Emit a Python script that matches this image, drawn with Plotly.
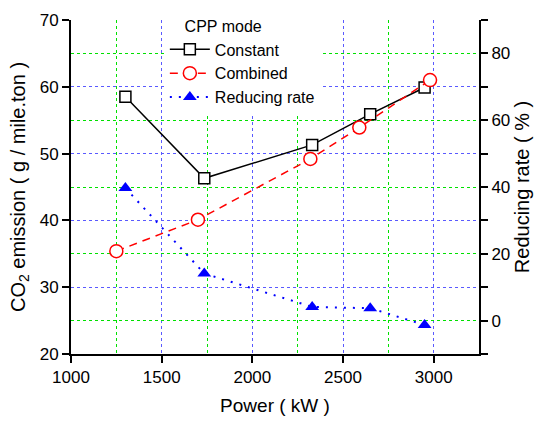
import plotly.graph_objects as go

power_constant = [1300, 1735, 2330, 2650, 2950]
co2_constant = [58.5, 46.3, 51.3, 55.9, 59.9]

power_combined = [1250, 1700, 2320, 2590, 2980]
co2_combined = [35.4, 40.1, 49.2, 53.9, 61.0]

power_rate = [1300, 1735, 2330, 2650, 2950]
reducing_rate = [39.7, 14.1, 4.1, 3.7, -1.3]

FONT = "Liberation Sans, Arial, sans-serif"
BLUE_GRID = "rgb(90,90,255)"
GREEN_GRID = "rgb(0,225,0)"

fig = go.Figure()

fig.add_trace(go.Scatter(
    x=power_constant, y=co2_constant, name="Constant", mode="lines+markers",
    line=dict(color="black", width=1.5),
    marker=dict(symbol="square", size=11, color="white", line=dict(color="black", width=1.5)),
))
fig.add_trace(go.Scatter(
    x=power_combined, y=co2_combined, name="Combined", mode="lines+markers",
    line=dict(color="red", width=1.5, dash="8px,6px"),
    marker=dict(symbol="circle", size=13, color="white", line=dict(color="red", width=1.5)),
))
fig.add_trace(go.Scatter(
    x=power_rate, y=reducing_rate, name="Reducing rate", mode="lines+markers", yaxis="y2",
    line=dict(color="blue", width=2, dash="2px,7px"),
    marker=dict(symbol="triangle-up", size=12, color="blue", line=dict(color="blue", width=0)),
))

axis_common = dict(
    showline=True, linecolor="black", linewidth=2, ticks="outside", ticklen=7,
    tickwidth=2, tickcolor="black", tickfont=dict(family=FONT, size=17, color="black"),
    zeroline=False, griddash="dot", gridwidth=1, automargin=False,
)

fig.update_layout(
    width=538, height=422,
    margin=dict(l=71, r=59, t=14, b=68),
    paper_bgcolor="white", plot_bgcolor="white",
    font=dict(family=FONT, color="black"),
    xaxis=dict(
        **axis_common, range=[1000, 3250], tickvals=[1000, 1500, 2000, 2500, 3000],
        showgrid=True, gridcolor=BLUE_GRID,
        minor=dict(dtick=250, tick0=1000, showgrid=True, gridcolor=GREEN_GRID, griddash="dot", ticks=""),
        title=dict(text="Power ( kW )", font=dict(family=FONT, size=19, color="black"), standoff=12),
    ),
    yaxis=dict(
        **axis_common, range=[20, 70], tickvals=[20, 30, 40, 50, 60, 70],
        showgrid=True, gridcolor=BLUE_GRID,
        title=dict(text="CO<sub>2</sub> emission ( g / mile.ton )", font=dict(family=FONT, size=20, color="black"), standoff=9),
    ),
    yaxis2=dict(
        **axis_common, range=[-10, 90], tickvals=[0, 20, 40, 60, 80],
        overlaying="y", side="right",
        showgrid=True, gridcolor=GREEN_GRID,
        minor=dict(dtick=10, tick0=0, ticks="outside", ticklen=7, tickwidth=2, tickcolor="black", showgrid=False),
        title=dict(text="Reducing rate ( % )", font=dict(family=FONT, size=20, color="black"), standoff=6),
    ),
    legend=dict(
        x=0.23, y=1.025, xanchor="left", yanchor="top",
        bgcolor="white", borderwidth=0,
        font=dict(family=FONT, size=16, color="black"),
        title=dict(text="\u00a0\u00a0\u00a0\u00a0CPP mode", font=dict(family=FONT, size=16, color="black")),
        itemwidth=40, tracegroupgap=0,
    ),
    showlegend=True,
)

fig.write_html(
    "out.html",
    config={"displayModeBar": False},
    post_script="document.body.style.margin='0';document.body.style.overflow='hidden';",
)
